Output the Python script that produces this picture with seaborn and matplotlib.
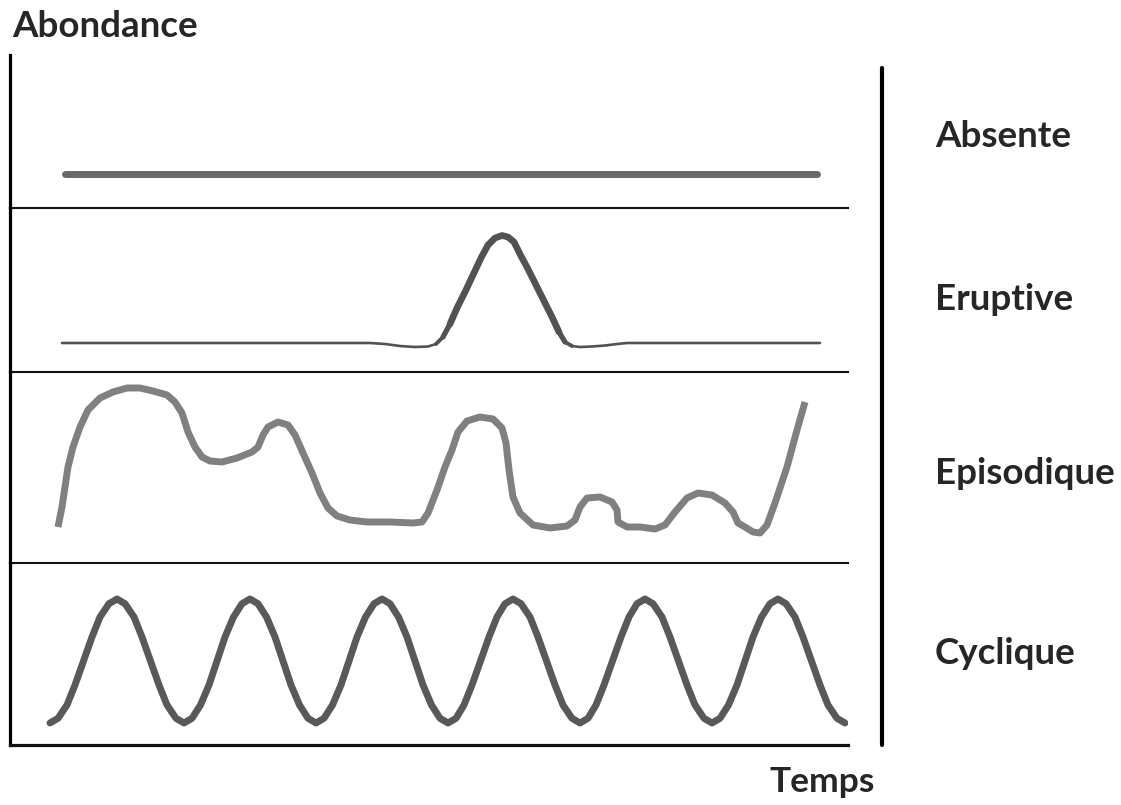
import numpy as np
import pandas as pd
import matplotlib
matplotlib.use("Agg")
import matplotlib.pyplot as plt
import seaborn as sns
from matplotlib.lines import Line2D

# values (time in screen-like units, abundance per panel)
absente_t = [65, 817]
absente_a = [34, 34]

eruptive_t = [62, 370, 385, 400, 415, 428, 436, 443, 450, 457, 465, 473, 481, 488, 495,
              502, 508, 514, 521, 528, 536, 544, 552, 559, 565, 572, 580, 592, 605, 617,
              627, 820]
eruptive_a = [29, 29, 28, 26, 25, 25.5, 28, 35, 48, 64, 80, 97, 114, 127, 134,
              136.5, 135, 130, 116, 103, 87, 71, 55, 40, 30, 26, 25, 25.5, 26.5, 28,
              29, 29]

episodique_t = [58, 62, 65, 68, 73, 80, 88, 100, 113, 127, 140, 153, 167, 175, 182, 188,
                195, 202, 210, 222, 237, 252, 258, 263, 268, 278, 288, 295, 303, 312,
                320, 328, 337, 350, 367, 390, 413, 422, 428, 437, 445, 452, 458, 467,
                480, 493, 502, 506, 509, 513, 520, 533, 550, 567, 575, 580, 587, 600,
                612, 617, 618, 627, 640, 655, 665, 675, 687, 698, 712, 725, 733, 738,
                745, 753, 760, 767, 775, 787, 797, 805]
episodique_a = [36, 56, 76, 96, 116, 136, 153, 165, 171, 175, 175, 172, 168, 161, 150, 131,
                116, 106, 102, 101, 105, 111, 116, 128, 136, 141, 138, 128, 110, 90,
                70, 55, 47, 43, 41, 41, 40, 41, 50, 73, 96, 113, 131, 142,
                146, 144, 135, 120, 93, 66, 50, 38, 35, 37, 43, 56, 65, 66,
                61, 53, 41, 36, 36, 34, 38, 51, 65, 70, 68, 60, 51, 40,
                36, 31, 30, 38, 60, 96, 133, 161]

cyclique_t = [50, 58, 67, 75, 83.5, 92, 100, 109, 117,
              125, 134, 142, 150.5, 159, 167, 176, 184,
              192, 200.5, 209, 217, 225, 233.5, 242, 250,
              258, 266.5, 275, 283, 291, 299.5, 308, 316,
              324, 332.5, 341, 349, 357, 365.5, 374, 382,
              390, 398.5, 407, 415, 423, 431.5, 440, 448,
              456, 464, 472, 480.5, 489, 497, 505, 513,
              521, 530, 538, 546.5, 555, 563, 572, 580,
              588, 596, 604, 612.5, 621, 629, 637, 645,
              653, 662, 670, 678.5, 687, 695, 704, 712,
              720, 728.5, 737, 745, 753, 761.5, 770, 778,
              786, 795, 803, 811.5, 820, 828, 837, 845]
cyclique_a = [22, 26.7, 40, 60, 84, 108, 128, 141.3, 146,
              141.3, 128, 108, 84, 60, 40, 26.7, 22,
              26.7, 40, 60, 84, 108, 128, 141.3, 146,
              141.3, 128, 108, 84, 60, 40, 26.7, 22,
              26.7, 40, 60, 84, 108, 128, 141.3, 146,
              141.3, 128, 108, 84, 60, 40, 26.7, 22,
              26.7, 40, 60, 84, 108, 128, 141.3, 146,
              141.3, 128, 108, 84, 60, 40, 26.7, 22,
              26.7, 40, 60, 84, 108, 128, 141.3, 146,
              141.3, 128, 108, 84, 60, 40, 26.7, 22,
              26.7, 40, 60, 84, 108, 128, 141.3, 146,
              141.3, 128, 108, 84, 60, 40, 26.7, 22]

labels = ["Absente", "Eruptive", "Episodique", "Cyclique"]
label_base = [147, 310, 484, 664]

sns.set_style("white")
plt.rcParams['font.family'] = ['Lato', 'DejaVu Sans']

W, H = 1121, 805
fig = plt.figure(figsize=(W / 100, H / 100), dpi=100)

tops = [55, 208, 372, 563]
bottoms = [208, 372, 563, 745]
x_left, x_right = 10, 848

axes = []
for top, bot in zip(tops, bottoms):
    ax = fig.add_axes([x_left / W, 1 - bot / H, (x_right - x_left) / W, (bot - top) / H])
    ax.set_xlim(x_left, x_right)
    ax.set_ylim(0, bot - top)
    ax.set_xticks([])
    ax.set_yticks([])
    ax.set_xlabel('')
    ax.set_ylabel('')
    for s in ['top', 'right']:
        ax.spines[s].set_visible(False)
    ax.spines['left'].set_linewidth(2.3)
    ax.spines['left'].set_color('black')
    ax.spines['bottom'].set_linewidth(1.5)
    ax.spines['bottom'].set_color('#111111')
    ax.patch.set_alpha(0)
    axes.append(ax)
axes[-1].spines['bottom'].set_linewidth(2.3)

# Absente
sns.lineplot(x=absente_t, y=absente_a, ax=axes[0], color='#696969', linewidth=5,
             solid_capstyle='round', estimator=None)

# Eruptive: thin baseline, stroke thickens on the peak
er = pd.DataFrame({'t': eruptive_t, 'a': eruptive_a})
for lo, hi, lw in [(0, 9999, 1.9), (432, 576, 2.8), (438, 568, 3.8), (445, 560, 4.8)]:
    part = er[(er.t >= lo) & (er.t <= hi)]
    sns.lineplot(data=part, x='t', y='a', ax=axes[1], color='#525252', linewidth=lw,
                 estimator=None, sort=False, solid_capstyle='round', solid_joinstyle='round')

# Episodique
sns.lineplot(x=episodique_t, y=episodique_a, ax=axes[2], color='#808080', linewidth=5,
             estimator=None, sort=False, solid_joinstyle='round', solid_capstyle='butt')

# Cyclique
sns.lineplot(x=cyclique_t, y=cyclique_a, ax=axes[3], color='#595959', linewidth=5,
             estimator=None, sort=False, solid_joinstyle='round', solid_capstyle='round')

for ax in axes:
    ax.set_xlabel('')
    ax.set_ylabel('')

# right-hand divider
fig.add_artist(Line2D([882 / W, 882 / W], [1 - 68 / H, 1 - 745 / H], color='black', linewidth=3))

for lab, y in zip(labels, label_base):
    fig.text(935 / W, 1 - y / H, lab, ha='left', va='baseline', fontsize=26.5, fontweight='bold')
fig.text(12 / W, 1 - 37 / H, "Abondance", ha='left', va='baseline', fontsize=26.5, fontweight='bold')
fig.text(769 / W, 1 - 792 / H, "Temps", ha='left', va='baseline', fontsize=25.5, fontweight='bold')

fig.savefig("out.png", dpi=100)
